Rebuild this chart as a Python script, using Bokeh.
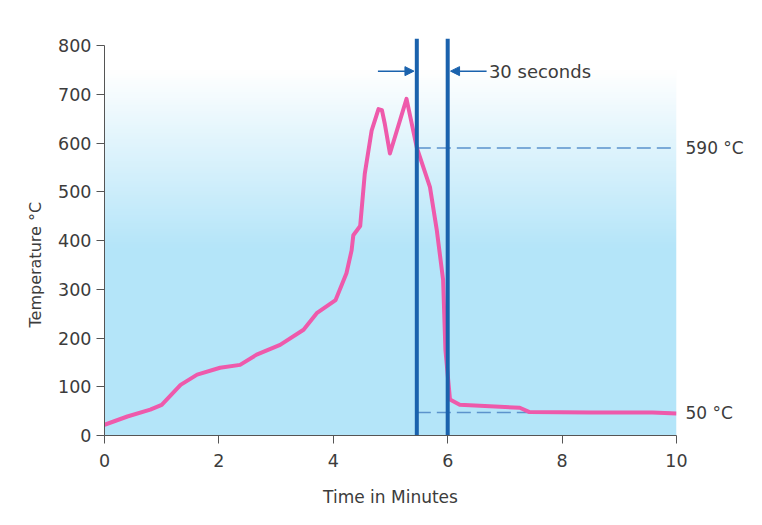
import numpy as np
from bokeh.plotting import figure
from bokeh.models import Range1d, Label, Arrow, NormalHead, FixedTicker, ColumnDataSource, LinearAxis, Title
from bokeh.embed import file_html
from bokeh.resources import INLINE

# ---- data ----
time_min = [0, 0.4, 0.8, 1.0, 1.33, 1.62, 2.02, 2.37, 2.66, 3.07, 3.48, 3.71, 4.04,
            4.23, 4.32, 4.35, 4.47, 4.55, 4.67, 4.79, 4.85, 4.90, 4.99, 5.28, 5.46,
            5.69, 5.81, 5.92, 5.96, 6.04, 6.21, 7.26, 7.43, 8.5, 9.58, 10]
temp_c = [22, 39, 53, 63, 104, 125, 139, 145, 166, 186, 217, 251, 278,
          333, 380, 411, 430, 537, 626, 670, 668, 640, 579, 691, 591,
          510, 421, 319, 176, 74, 63, 57, 48, 47, 47, 45]
x_ticks = [0, 2, 4, 6, 8, 10]
y_ticks = [0, 100, 200, 300, 400, 500, 600, 700, 800]
window_start = 5.46
window_end = 6.0
ref_levels = [590, 47]
ref_labels = ["590 °C", "50 °C"]
window_label = "30 seconds"

FONT = "DejaVu Sans"
TXT = "#3c3c3c"
BLUE = "#1a62ad"
DASH = "#5b93cc"
PINK = "#ee5aab"

p = figure(width=746, height=509, output_backend="svg", toolbar_location=None,
           x_range=Range1d(0, 10), y_range=Range1d(0, 815),
           min_border_left=104, min_border_right=69, min_border_top=38, min_border_bottom=73)
p.outline_line_color = None
p.grid.visible = False
p.background_fill_color = "white"
p.border_fill_color = "white"

# background gradient (style only)
ny = 200
yy = np.linspace(0, 815, ny)
top = np.array([255, 255, 255], dtype=float)
bot = np.array([180, 229, 249], dtype=float)
f = np.clip((yy - 380) / (750 - 380), 0, 1)
cols = bot[None, :] * (1 - f[:, None]) + top[None, :] * f[:, None]
img = np.zeros((ny, 2), dtype=np.uint32)
view = img.view(dtype=np.uint8).reshape((ny, 2, 4))
for i in range(ny):
    view[i, :, 0] = int(cols[i, 0])
    view[i, :, 1] = int(cols[i, 1])
    view[i, :, 2] = int(cols[i, 2])
    view[i, :, 3] = 255
p.image_rgba(image=[img], x=0, y=0, dw=10, dh=815)

# dashed reference lines
for lv in ref_levels:
    p.segment(x0=[window_start], y0=[lv], x1=[10], y1=[lv], line_color=DASH,
              line_width=1.5, line_dash="14 6")

# curve
src = ColumnDataSource(dict(t=time_min, T=temp_c))
p.line("t", "T", source=src, line_color=PINK, line_width=4, line_join="round")

# vertical window lines
p.segment(x0=[window_start, window_end], y0=[0, 0], x1=[window_start, window_end],
          y1=[815, 815], line_color=BLUE, line_width=4)

# arrows
p.add_layout(Arrow(end=NormalHead(size=9, fill_color=BLUE, line_color=BLUE),
                   x_start=4.78, y_start=748, x_end=window_start - 0.05, y_end=748,
                   line_color=BLUE, line_width=1.5))
p.add_layout(Arrow(end=NormalHead(size=9, fill_color=BLUE, line_color=BLUE),
                   x_start=6.68, y_start=748, x_end=window_end + 0.05, y_end=748,
                   line_color=BLUE, line_width=1.5))
p.add_layout(Label(x=6.72, y=748, text=window_label, text_font=FONT, text_font_size="18px",
                   text_color=TXT, text_baseline="middle"))

# axes
for ax in (p.xaxis[0], p.yaxis[0]):
    ax.axis_line_color = "#555555"
    ax.major_tick_line_color = "#555555"
    ax.minor_tick_line_color = None
    ax.major_tick_in = 0
    ax.major_tick_out = 8
    ax.major_label_text_font = FONT
    ax.major_label_text_font_size = "17.5px"
    ax.major_label_text_color = TXT
    ax.axis_label_text_font = FONT
    ax.axis_label_text_font_size = "17px"
    ax.axis_label_text_font_style = "normal"
    ax.axis_label_text_color = TXT

p.xaxis.ticker = FixedTicker(ticks=x_ticks)
p.yaxis.ticker = FixedTicker(ticks=y_ticks)
p.yaxis.bounds = (0, 800)
p.xaxis.axis_label = "Time in Minutes"
p.xaxis.major_label_standoff = 10
p.xaxis.axis_label_standoff = 17
p.yaxis.major_label_standoff = 5

# y-axis title placed as a side title to match the reference position
p.add_layout(Title(text="Temperature °C", align="left", offset=108, text_font=FONT,
                   text_font_size="16px", text_font_style="normal", text_color=TXT,
                   standoff=22), "left")

# right-side labels for reference levels
rax = LinearAxis(ticker=FixedTicker(ticks=ref_levels),
                 major_label_overrides={lv: lab for lv, lab in zip(ref_levels, ref_labels)})
rax.axis_line_color = None
rax.major_tick_line_color = None
rax.minor_tick_line_color = None
rax.major_tick_in = 0
rax.major_tick_out = 0
rax.major_label_standoff = 9
rax.major_label_text_font = FONT
rax.major_label_text_font_size = "17px"
rax.major_label_text_color = TXT
p.add_layout(rax, "right")

open("out.html", "w").write(file_html(p, INLINE))
